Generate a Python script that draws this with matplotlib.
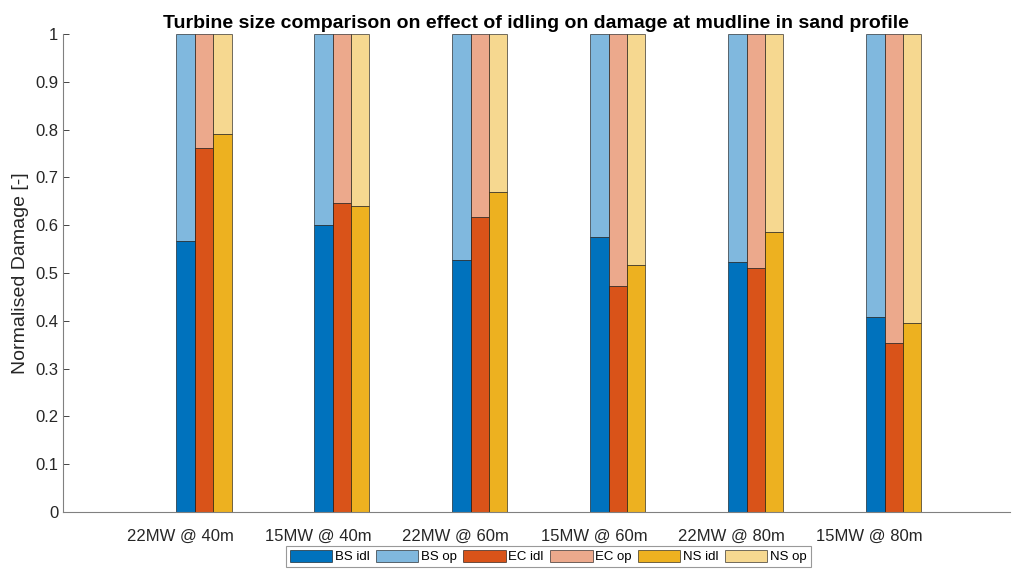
import numpy as np
import matplotlib.pyplot as plt

# normalised damage during idling; operation fills the rest up to 1
cases = ['22MW @ 40m', '15MW @ 40m', '22MW @ 60m', '15MW @ 60m', '22MW @ 80m', '15MW @ 80m']
bs_idl = [0.567, 0.600, 0.528, 0.576, 0.524, 0.407]
ec_idl = [0.761, 0.647, 0.617, 0.473, 0.511, 0.354]
ns_idl = [0.791, 0.641, 0.670, 0.517, 0.585, 0.395]

sites = ['BS', 'EC', 'NS']
c_idl = ['#0072BD', '#D95319', '#EDB120']
c_op = ['#80B8DE', '#ECA98C', '#F6D890']

plt.rcParams['font.family'] = ['Arial', 'Liberation Sans', 'DejaVu Sans']

fig = plt.figure(figsize=(10.23, 5.74), dpi=100)
ax = fig.add_axes([0.0616, 0.108, 0.9254, 0.8328])

x = np.arange(1, len(cases) + 1)
w = 0.133
edge = (0, 0, 0, 0.55)
handles = []
for k, (name, idl) in enumerate(zip(sites, [bs_idl, ec_idl, ns_idl])):
    idl = np.array(idl)
    pos = x + 0.041 + k * w
    h1 = ax.bar(pos, idl, width=w, color=c_idl[k], edgecolor=edge, linewidth=0.7)
    h2 = ax.bar(pos, 1 - idl, bottom=idl, width=w, color=c_op[k], edgecolor=edge, linewidth=0.7)
    handles += [(h1, name + ' idl'), (h2, name + ' op')]

ax.set_xlim(0.152, 7.014)
ax.set_ylim(0, 1)
ax.set_xticks(x)
ax.set_xticklabels(cases)
ax.set_yticks(np.arange(0, 1.01, 0.1))
ax.set_yticklabels(['0'] + ['%.1f' % v for v in np.arange(0.1, 0.95, 0.1)] + ['1'])
ax.tick_params(axis='both', direction='in', labelsize=12, colors='#262626', length=4, width=0.6)
ax.tick_params(axis='x', length=0, pad=12)
for s in ['top', 'right']:
    ax.spines[s].set_visible(False)
for s in ['left', 'bottom']:
    ax.spines[s].set_color('#808080')
    ax.spines[s].set_linewidth(0.8)

ax.set_ylabel('Normalised Damage [-]', fontsize=14, color='#262626', labelpad=4)
ax.set_title('Turbine size comparison on effect of idling on damage at mudline in sand profile',
             fontsize=14, fontweight='bold', color='black', pad=4)

leg = fig.legend([h for h, _ in handles], [l for _, l in handles], loc='lower center',
                 bbox_to_anchor=(0.536, 0.0), ncol=6, fontsize=9.5, frameon=True,
                 fancybox=False, handlelength=3.2, handleheight=1.0, handletextpad=0.2,
                 columnspacing=0.5, borderpad=0.3)
leg.get_frame().set_edgecolor('#808080')
leg.get_frame().set_linewidth(0.8)

fig.savefig('out.png', dpi=100)
